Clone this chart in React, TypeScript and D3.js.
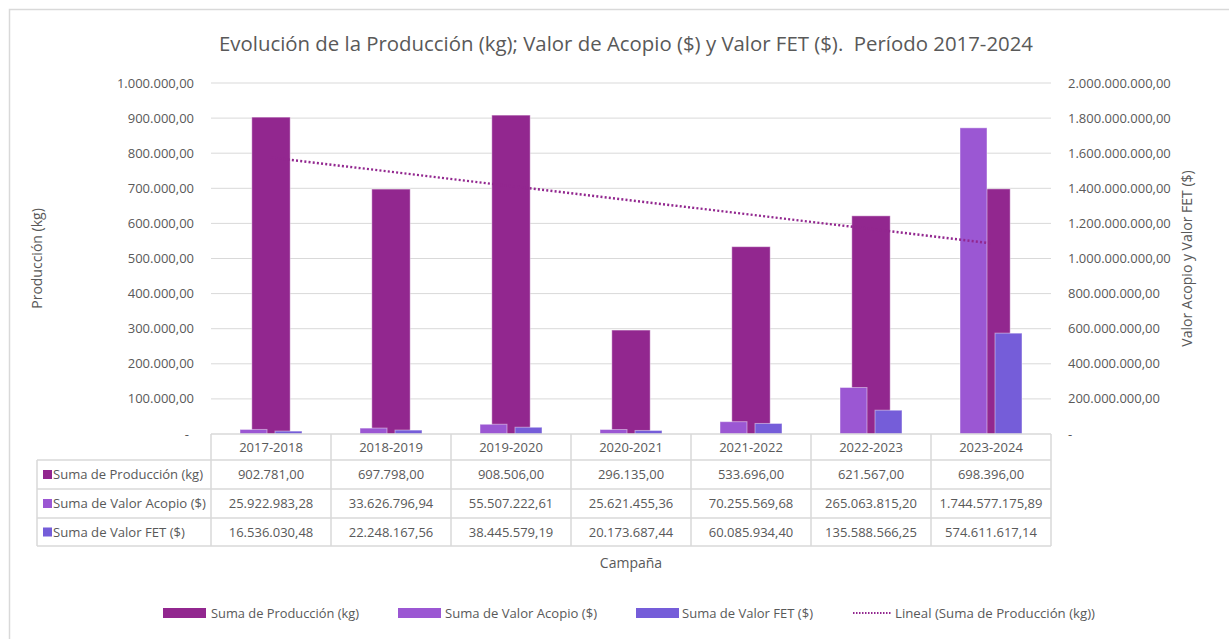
import React from "react";
import * as d3 from "d3";

const categories = ["2017-2018", "2018-2019", "2019-2020", "2020-2021", "2021-2022", "2022-2023", "2023-2024"];
const produccion = [902781.0, 697798.0, 908506.0, 296135.0, 533696.0, 621567.0, 698396.0];
const acopio = [25922983.28, 33626796.94, 55507222.61, 25621455.36, 70255569.68, 265063815.2, 1744577175.89];
const fet = [16536030.48, 22248167.56, 38445579.19, 20173687.44, 60085934.4, 135588566.25, 574611617.14];
const seriesNames = ["Suma de Producción (kg)", "Suma de Valor Acopio ($)", "Suma de Valor FET ($)"];
const trendName = "Lineal (Suma de Producción (kg))";
const title = "Evolución de la Producción (kg); Valor de Acopio ($) y Valor FET ($).  Período 2017-2024";
const leftTitle = "Producción (kg)";
const rightTitle = "Valor Acopio y Valor FET ($)";
const xTitle = "Campaña";

const COLORS = ["#92278F", "#9B57D3", "#755DD9"];
const TXT = "#595959";
const GRID = "#D9D9D9";
const FONT = "'Open Sans', 'Noto Sans', sans-serif";

const locale = d3.formatLocale({ decimal: ",", thousands: ".", grouping: [3], currency: ["$", ""] });
const fmt = locale.format(",.2f");
const tickFmt = (v: number) => (v === 0 ? "-" : fmt(v));

export default function App() {
  const W = 1229, H = 639;
  const left = 211, right = 1051, top = 83, bottom = 434;

  const x = d3.scaleBand<string>().domain(categories).range([left, right]).padding(0);
  const yL = d3.scaleLinear().domain([0, 1000000]).range([bottom, top]);
  const yR = d3.scaleLinear().domain([0, 2000000000]).range([bottom, top]);
  const inner = d3.scaleBand<string>().domain(["a", "f"]).range([-31, 31]).paddingInner(0.2286).paddingOuter(0);
  const prodW = x.bandwidth() * 0.32;
  const cx = (c: string) => (x(c) as number) + x.bandwidth() / 2;

  const leftTicks = yL.ticks(10);
  const rightTicks = yR.ticks(10);

  // linear trend (least squares) over category index 1..n
  const n = produccion.length;
  const xs = d3.range(1, n + 1);
  const mx = d3.mean(xs) as number;
  const my = d3.mean(produccion) as number;
  const slope = d3.sum(xs.map((v, i) => (v - mx) * (produccion[i] - my))) / d3.sum(xs.map((v) => (v - mx) ** 2));
  const intercept = my - slope * mx;
  const trendPts: [number, number][] = [
    [cx(categories[0]), yL(intercept + slope * 1)],
    [cx(categories[n - 1]), yL(intercept + slope * n)],
  ];
  const line = d3.line();

  // table rows
  const rowLines = [434, 460, 489, 518, 546];
  const tableLeft = 37;
  const rows = [produccion, acopio, fet];
  const labelWidths = [150, 153, 132];

  const legendItems = [
    { kind: "rect", color: COLORS[0], label: seriesNames[0], sx: 163, tx: 211, tw: 148 },
    { kind: "rect", color: COLORS[1], label: seriesNames[1], sx: 398, tx: 445, tw: 152 },
    { kind: "rect", color: COLORS[2], label: seriesNames[2], sx: 636, tx: 682, tw: 131 },
    { kind: "line", color: COLORS[0], label: trendName, sx: 853, tx: 895, tw: 200 },
  ];

  return (
    <svg width={W} height={H} style={{ position: "absolute", left: 0, top: 0, background: "#fff" }} fontFamily={FONT}>
      <rect x={0} y={0} width={W} height={H} fill="#fff" />
      <rect x={9.5} y={9.5} width={W + 20} height={H + 20} fill="#fff" stroke={GRID} strokeWidth={1.5} />

      <text x={626} y={51} textAnchor="middle" fontSize={20} fill={TXT} textLength={814} lengthAdjust="spacingAndGlyphs"
        style={{ whiteSpace: "pre" }}>
        {title}
      </text>

      {/* gridlines */}
      {leftTicks.filter((t) => t > 0).map((t) => (
        <line key={"g" + t} x1={left} x2={right} y1={yL(t)} y2={yL(t)} stroke={GRID} strokeWidth={1} />
      ))}

      {/* left ticks */}
      {leftTicks.map((t) => (
        <text key={"l" + t} x={t === 0 ? 189 : 194} y={yL(t)} dy="0.35em" textAnchor="end" fontSize={13} fill={TXT}>
          {tickFmt(t)}
        </text>
      ))}
      {/* right ticks */}
      {rightTicks.map((t) => (
        <text key={"r" + t} x={1068} y={yR(t)} dy="0.35em" textAnchor="start" fontSize={13} fill={TXT}>
          {tickFmt(t)}
        </text>
      ))}

      <text transform={`translate(42, ${(top + bottom) / 2}) rotate(-90)`} textAnchor="middle" fontSize={14} fill={TXT}>
        {leftTitle}
      </text>
      <text transform={`translate(1192, ${(top + bottom) / 2}) rotate(-90)`} textAnchor="middle" fontSize={14} fill={TXT}>
        {rightTitle}
      </text>

      {/* production bars (primary) */}
      {categories.map((c, i) => (
        <rect key={"p" + c} x={cx(c) - prodW / 2} y={yL(produccion[i])} width={prodW} height={bottom - yL(produccion[i])}
          fill={COLORS[0]} stroke="#fff" strokeOpacity={0.45} strokeWidth={1} />
      ))}
      {/* secondary bars */}
      {categories.map((c, i) => (
        <g key={"s" + c}>
          <rect x={cx(c) + (inner("a") as number)} y={yR(acopio[i])} width={inner.bandwidth()} height={bottom - yR(acopio[i])}
            fill={COLORS[1]} stroke="#fff" strokeOpacity={0.45} strokeWidth={1} />
          <rect x={cx(c) + (inner("f") as number)} y={yR(fet[i])} width={inner.bandwidth()} height={bottom - yR(fet[i])}
            fill={COLORS[2]} stroke="#fff" strokeOpacity={0.45} strokeWidth={1} />
        </g>
      ))}

      {/* trend line */}
      <path d={line(trendPts) as string} fill="none" stroke={COLORS[0]} strokeWidth={2.4} strokeDasharray="2 2.2" />

      {/* data table */}
      <g stroke={GRID} strokeWidth={1.5} fill="none">
        <line x1={left} x2={right} y1={rowLines[0]} y2={rowLines[0]} />
        {rowLines.slice(1).map((y) => (
          <line key={"h" + y} x1={tableLeft} x2={right} y1={y} y2={y} />
        ))}
        <line x1={tableLeft} x2={tableLeft} y1={rowLines[1]} y2={rowLines[4]} />
        {categories.map((c) => (
          <line key={"v" + c} x1={x(c) as number} x2={x(c) as number} y1={rowLines[0]} y2={rowLines[4]} />
        ))}
        <line x1={right} x2={right} y1={rowLines[0]} y2={rowLines[4]} />
      </g>
      {categories.map((c) => (
        <text key={"hc" + c} x={cx(c)} y={(rowLines[0] + rowLines[1]) / 2} dy="0.35em" textAnchor="middle" fontSize={13} fill={TXT}>
          {c}
        </text>
      ))}
      {rows.map((vals, r) => {
        const yc = (rowLines[r + 1] + rowLines[r + 2]) / 2;
        return (
          <g key={"row" + r}>
            <rect x={43} y={yc - 4.5} width={9} height={9} fill={COLORS[r]} />
            <text x={53} y={yc} dy="0.35em" fontSize={13} fill={TXT} textLength={labelWidths[r]} lengthAdjust="spacingAndGlyphs">
              {seriesNames[r]}
            </text>
            {categories.map((c, i) => (
              <text key={c} x={cx(c)} y={yc} dy="0.35em" textAnchor="middle" fontSize={13} fill={TXT}>
                {fmt(vals[i])}
              </text>
            ))}
          </g>
        );
      })}

      <text x={631} y={563} dy="0.35em" textAnchor="middle" fontSize={14} fill={TXT}>
        {xTitle}
      </text>

      {/* legend */}
      {legendItems.map((it) => (
        <g key={it.label}>
          {it.kind === "rect" ? (
            <rect x={it.sx} y={608} width={43} height={10} fill={it.color} />
          ) : (
            <line x1={it.sx} x2={it.sx + 38} y1={613} y2={613} stroke={it.color} strokeWidth={2} strokeDasharray="1.5 1.5" />
          )}
          <text x={it.tx} y={613} dy="0.35em" fontSize={13} fill={TXT} textLength={it.tw} lengthAdjust="spacingAndGlyphs">
            {it.label}
          </text>
        </g>
      ))}
    </svg>
  );
}
